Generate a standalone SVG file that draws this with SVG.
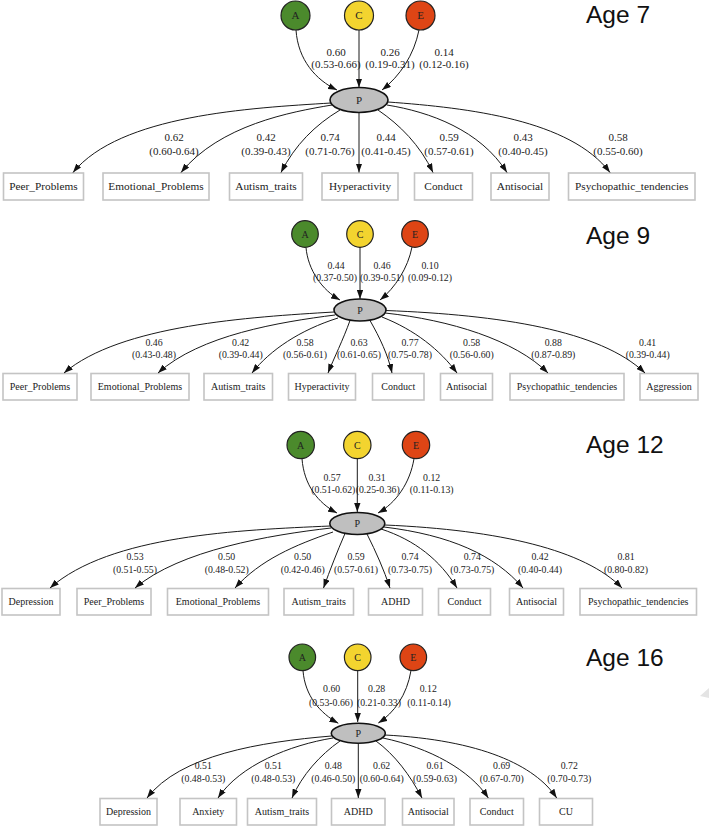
<svg xmlns="http://www.w3.org/2000/svg" width="709" height="826" viewBox="0 0 709 826">
<defs>
<marker id="arr" viewBox="0 0 10 7" markerWidth="9" markerHeight="6.5" refX="10" refY="3.5" orient="auto" markerUnits="userSpaceOnUse">
<path d="M0,0 L10,3.5 L0,7 Z" fill="#111"/>
</marker>
<style>
.e{fill:none;stroke:#1a1a1a;stroke-width:1;marker-end:url(#arr)}
.b{fill:#fff;stroke:#c4c4c4;stroke-width:1.6}
.t{font-family:"Liberation Serif","Times New Roman",serif;fill:#222;text-anchor:middle}
.s1{font-size:11px}
.s2{font-size:9.8px}
.bt1{font-size:11.3px}
.bt2{font-size:10px}
.age{font-family:"Liberation Sans",Arial,sans-serif;font-size:24.5px;fill:#111}
.a{fill:#4b8a2c;stroke:#222;stroke-width:1.2}
.c{fill:#f3d42f;stroke:#222;stroke-width:1.2}
.x{fill:#de4515;stroke:#222;stroke-width:1.2}
.p{fill:#bfbfbf;stroke:#111;stroke-width:1.6}
</style>
</defs>
<rect width="709" height="826" fill="#fff"/>

<!-- ================= Age 7 ================= -->
<text class="age" x="586" y="23">Age 7</text>
<g id="a7-A"><circle class="a" cx="295.5" cy="15.5" r="14.5"/><text class="t s1" x="295.5" y="19.3">A</text></g>
<g id="a7-C"><circle class="c" cx="359" cy="15.5" r="14.5"/><text class="t s1" x="359" y="19.3">C</text></g>
<g id="a7-E"><circle class="x" cx="420.5" cy="15.5" r="14.5"/><text class="t s1" x="420.5" y="19.3">E</text></g>
<g id="a7-P"><ellipse class="p" cx="359" cy="100" rx="29" ry="12.5"/><text class="t s1" x="359" y="103.8">P</text></g>
<g id="a7-n1"><rect class="b" x="3.5" y="173" width="80" height="27"/><text class="t bt1" x="43.5" y="190.3">Peer_Problems</text></g>
<g id="a7-n2"><rect class="b" x="103" y="173" width="106" height="27"/><text class="t bt1" x="156" y="190.3">Emotional_Problems</text></g>
<g id="a7-n3"><rect class="b" x="229.5" y="173" width="73" height="27"/><text class="t bt1" x="266" y="190.3">Autism_traits</text></g>
<g id="a7-n4"><rect class="b" x="322" y="173" width="76" height="27"/><text class="t bt1" x="360" y="190.3">Hyperactivity</text></g>
<g id="a7-n5"><rect class="b" x="414.5" y="173" width="58" height="27"/><text class="t bt1" x="443.5" y="190.3">Conduct</text></g>
<g id="a7-n6"><rect class="b" x="491" y="173" width="58" height="27"/><text class="t bt1" x="520" y="190.3">Antisocial</text></g>
<g id="a7-n7"><rect class="b" x="568.5" y="173" width="126.5" height="27"/><text class="t bt1" x="631.75" y="190.3">Psychopathic_tendencies</text></g>
<g id="a7-edges">
<path class="e" d="M296,30 C298,60 316,80 337,90"/>
<path class="e" d="M359,30 L359,87.5"/>
<path class="e" d="M419,30 C414,55 400,76 382,90"/>
<path class="e" d="M331,103 C250,108 120,115 73,172.5"/>
<path class="e" d="M332,105 C290,112 220,125 181,172.5"/>
<path class="e" d="M340,110 C315,125 295,145 281,172.5"/>
<path class="e" d="M359,112.5 L359,172.5"/>
<path class="e" d="M378,110 C400,125 420,145 433,172.5"/>
<path class="e" d="M387,105 C430,112 480,130 507,172.5"/>
<path class="e" d="M388,102 C470,108 570,120 610,172.5"/>
<g class="t s1">
<text x="336" y="55.7">0.60</text><text x="336" y="68.3">(0.53-0.66)</text>
<text x="390" y="55.7">0.26</text><text x="390" y="68.3">(0.19-0.31)</text>
<text x="444" y="55.7">0.14</text><text x="444" y="68.3">(0.12-0.16)</text>
<text x="174" y="140.5">0.62</text><text x="174" y="155">(0.60-0.64)</text>
<text x="266" y="140.5">0.42</text><text x="266" y="155">(0.39-0.43)</text>
<text x="330" y="140.5">0.74</text><text x="330" y="155">(0.71-0.76)</text>
<text x="386" y="140.5">0.44</text><text x="386" y="155">(0.41-0.45)</text>
<text x="449" y="140.5">0.59</text><text x="449" y="155">(0.57-0.61)</text>
<text x="523" y="140.5">0.43</text><text x="523" y="155">(0.40-0.45)</text>
<text x="618" y="140.5">0.58</text><text x="618" y="155">(0.55-0.60)</text>
</g>
</g>

<!-- ================= Age 9 ================= -->
<text class="age" x="586" y="244.3">Age 9</text>
<g id="a9-A"><circle class="a" cx="305" cy="234" r="13.3"/><text class="t bt2" x="305" y="237.5">A</text></g>
<g id="a9-C"><circle class="c" cx="360" cy="234" r="13.3"/><text class="t bt2" x="360" y="237.5">C</text></g>
<g id="a9-E"><circle class="x" cx="415" cy="234" r="13.3"/><text class="t bt2" x="415" y="237.5">E</text></g>
<g id="a9-P"><ellipse class="p" cx="360" cy="310" rx="26" ry="11"/><text class="t bt2" x="360" y="313.5">P</text></g>
<g id="a9-n1"><rect class="b" x="3" y="373.5" width="74" height="26.5"/><text class="t bt2" x="40" y="390.2">Peer_Problems</text></g>
<g id="a9-n2"><rect class="b" x="91" y="373.5" width="98" height="26.5"/><text class="t bt2" x="140" y="390.2">Emotional_Problems</text></g>
<g id="a9-n3"><rect class="b" x="204" y="373.5" width="68.5" height="26.5"/><text class="t bt2" x="238.25" y="390.2">Autism_traits</text></g>
<g id="a9-n4"><rect class="b" x="288.5" y="373.5" width="67" height="26.5"/><text class="t bt2" x="322" y="390.2">Hyperactivity</text></g>
<g id="a9-n5"><rect class="b" x="372.5" y="373.5" width="51.5" height="26.5"/><text class="t bt2" x="398.25" y="390.2">Conduct</text></g>
<g id="a9-n6"><rect class="b" x="440.5" y="373.5" width="52" height="26.5"/><text class="t bt2" x="466.5" y="390.2">Antisocial</text></g>
<g id="a9-n7"><rect class="b" x="510" y="373.5" width="114" height="26.5"/><text class="t bt2" x="567" y="390.2">Psychopathic_tendencies</text></g>
<g id="a9-n8"><rect class="b" x="640" y="373.5" width="58" height="26.5"/><text class="t bt2" x="669" y="390.2">Aggression</text></g>
<g id="a9-edges">
<path class="e" d="M306,247.5 C308,270 322,290 340,300"/>
<path class="e" d="M360,247.5 L360,299"/>
<path class="e" d="M412,247 C408,268 395,288 380,300"/>
<path class="e" d="M334,312 C250,317 120,325 64,373"/>
<path class="e" d="M335,315 C280,322 200,335 158,373"/>
<path class="e" d="M338,318 C300,330 270,350 252,373"/>
<path class="e" d="M350,320.5 C343,340 334,358 328,373"/>
<path class="e" d="M370,320.5 C380,338 388,355 392,373"/>
<path class="e" d="M382,317 C415,330 440,350 457,373"/>
<path class="e" d="M385,313 C450,320 515,340 548,373"/>
<path class="e" d="M386,310.5 C500,315 600,330 645,373"/>
<g class="t s2">
<text x="336" y="269.3">0.44</text><text x="335" y="281.3">(0.37-0.50)</text>
<text x="382" y="269.3">0.46</text><text x="382" y="281.3">(0.39-0.51)</text>
<text x="430" y="269.3">0.10</text><text x="430" y="281.3">(0.09-0.12)</text>
<text x="154" y="346">0.46</text><text x="154" y="357.6">(0.43-0.48)</text>
<text x="240.7" y="346">0.42</text><text x="240.7" y="357.6">(0.39-0.44)</text>
<text x="305" y="346">0.58</text><text x="305" y="357.6">(0.56-0.61)</text>
<text x="359" y="346">0.63</text><text x="359" y="357.6">(0.61-0.65)</text>
<text x="410" y="346">0.77</text><text x="410" y="357.6">(0.75-0.78)</text>
<text x="471.7" y="346">0.58</text><text x="471.7" y="357.6">(0.56-0.60)</text>
<text x="553.3" y="346">0.88</text><text x="553.3" y="357.6">(0.87-0.89)</text>
<text x="647.7" y="346">0.41</text><text x="647.7" y="357.6">(0.39-0.44)</text>
</g>
</g>

<!-- ================= Age 12 ================= -->
<text class="age" x="586" y="453.3">Age 12</text>
<g id="a12-A"><circle class="a" cx="300.7" cy="445" r="13.7"/><text class="t bt2" x="300.7" y="448.5">A</text></g>
<g id="a12-C"><circle class="c" cx="357.3" cy="445" r="13.7"/><text class="t bt2" x="357.3" y="448.5">C</text></g>
<g id="a12-E"><circle class="x" cx="416" cy="445" r="13.7"/><text class="t bt2" x="416" y="448.5">E</text></g>
<g id="a12-P"><ellipse class="p" cx="357.3" cy="523.5" rx="27.5" ry="11"/><text class="t bt2" x="357.3" y="527">P</text></g>
<g id="a12-n1"><rect class="b" x="2" y="588.5" width="58" height="26.5"/><text class="t bt2" x="31" y="605.2">Depression</text></g>
<g id="a12-n2"><rect class="b" x="77" y="588.5" width="74" height="26.5"/><text class="t bt2" x="114" y="605.2">Peer_Problems</text></g>
<g id="a12-n3"><rect class="b" x="167.5" y="588.5" width="101" height="26.5"/><text class="t bt2" x="218" y="605.2">Emotional_Problems</text></g>
<g id="a12-n4"><rect class="b" x="284" y="588.5" width="69.5" height="26.5"/><text class="t bt2" x="318.75" y="605.2">Autism_traits</text></g>
<g id="a12-n5"><rect class="b" x="368.5" y="588.5" width="54" height="26.5"/><text class="t bt2" x="395.5" y="605.2">ADHD</text></g>
<g id="a12-n6"><rect class="b" x="438.5" y="588.5" width="52" height="26.5"/><text class="t bt2" x="464.5" y="605.2">Conduct</text></g>
<g id="a12-n7"><rect class="b" x="509.5" y="588.5" width="54" height="26.5"/><text class="t bt2" x="536.5" y="605.2">Antisocial</text></g>
<g id="a12-n8"><rect class="b" x="580" y="588.5" width="116.5" height="26.5"/><text class="t bt2" x="638.25" y="605.2">Psychopathic_tendencies</text></g>
<g id="a12-edges">
<path class="e" d="M302,458.7 C304,485 318,503 337,513"/>
<path class="e" d="M357.3,458.7 L357.3,512"/>
<path class="e" d="M414,458.7 C410,483 396,503 378,513"/>
<path class="e" d="M330,526 C240,530 110,535 50,588"/>
<path class="e" d="M331,528 C270,535 180,550 135,588"/>
<path class="e" d="M333,532 C295,545 260,560 235,588"/>
<path class="e" d="M345,533.5 C337,552 330,570 323.5,588"/>
<path class="e" d="M367,534 C376,552 384,570 390,588"/>
<path class="e" d="M381,529 C415,540 440,560 457,588"/>
<path class="e" d="M384,527 C450,535 495,555 523,588"/>
<path class="e" d="M385,525 C500,530 585,550 622,588"/>
<g class="t s2">
<text x="332" y="481">0.57</text><text x="333.3" y="493.3">(0.51-0.62)</text>
<text x="377" y="481">0.31</text><text x="377.7" y="493.3">(0.25-0.36)</text>
<text x="431.7" y="481">0.12</text><text x="431.7" y="493.3">(0.11-0.13)</text>
<text x="135" y="560">0.53</text><text x="135" y="572.6">(0.51-0.55)</text>
<text x="226.7" y="560">0.50</text><text x="226.7" y="572.6">(0.48-0.52)</text>
<text x="302.7" y="560">0.50</text><text x="302.7" y="572.6">(0.42-0.46)</text>
<text x="356" y="560">0.59</text><text x="356" y="572.6">(0.57-0.61)</text>
<text x="410" y="560">0.74</text><text x="410" y="572.6">(0.73-0.75)</text>
<text x="472.3" y="560">0.74</text><text x="472.3" y="572.6">(0.73-0.75)</text>
<text x="540" y="560">0.42</text><text x="540" y="572.6">(0.40-0.44)</text>
<text x="626" y="560">0.81</text><text x="626" y="572.6">(0.80-0.82)</text>
</g>
</g>

<!-- ================= Age 16 ================= -->
<text class="age" x="586" y="665.7">Age 16</text>
<g id="a16-A"><circle class="a" cx="302.3" cy="657.3" r="13.3"/><text class="t bt2" x="302.3" y="660.8">A</text></g>
<g id="a16-C"><circle class="c" cx="357.7" cy="657.3" r="13.3"/><text class="t bt2" x="357.7" y="660.8">C</text></g>
<g id="a16-E"><circle class="x" cx="413.3" cy="657.3" r="13.3"/><text class="t bt2" x="413.3" y="660.8">E</text></g>
<g id="a16-P"><ellipse class="p" cx="358.3" cy="733.3" rx="27" ry="10"/><text class="t bt2" x="358.3" y="736.8">P</text></g>
<g id="a16-n1"><rect class="b" x="100" y="798.5" width="57" height="26.5"/><text class="t bt2" x="128.5" y="815.2">Depression</text></g>
<g id="a16-n2"><rect class="b" x="180" y="798.5" width="56.5" height="26.5"/><text class="t bt2" x="208.25" y="815.2">Anxiety</text></g>
<g id="a16-n3"><rect class="b" x="247.5" y="798.5" width="69" height="26.5"/><text class="t bt2" x="282" y="815.2">Autism_traits</text></g>
<g id="a16-n4"><rect class="b" x="331.5" y="798.5" width="53.5" height="26.5"/><text class="t bt2" x="358.25" y="815.2">ADHD</text></g>
<g id="a16-n5"><rect class="b" x="402.5" y="798.5" width="51.5" height="26.5"/><text class="t bt2" x="428.25" y="815.2">Antisocial</text></g>
<g id="a16-n6"><rect class="b" x="470" y="798.5" width="53.5" height="26.5"/><text class="t bt2" x="496.75" y="815.2">Conduct</text></g>
<g id="a16-n7"><rect class="b" x="539.5" y="798.5" width="53" height="26.5"/><text class="t bt2" x="566" y="815.2">CU</text></g>
<g id="a16-edges">
<path class="e" d="M303,670.6 C305,696 320,713 338.3,723.3"/>
<path class="e" d="M357.7,670.6 L357.7,722"/>
<path class="e" d="M411,670.5 C407,695 394,713 378.3,723"/>
<path class="e" d="M331.5,736 C260,742 180,755 147,798"/>
<path class="e" d="M333,738 C290,745 240,765 218,798"/>
<path class="e" d="M340,741 C320,755 302,775 292,798"/>
<path class="e" d="M358.3,743.3 L358.3,798"/>
<path class="e" d="M376,741 C395,755 410,775 422,798"/>
<path class="e" d="M383,738 C430,748 470,770 488.3,798"/>
<path class="e" d="M385,735 C480,740 535,765 556.7,798"/>
<g class="t s2">
<text x="331.7" y="692.3">0.60</text><text x="331" y="705.6">(0.53-0.66)</text>
<text x="376.7" y="692.3">0.28</text><text x="379" y="705.6">(0.21-0.33)</text>
<text x="428.3" y="692.3">0.12</text><text x="429" y="705.6">(0.11-0.14)</text>
<text x="203.3" y="769.3">0.51</text><text x="203.3" y="782.3">(0.48-0.53)</text>
<text x="273.3" y="769.3">0.51</text><text x="273.3" y="782.3">(0.48-0.53)</text>
<text x="333.3" y="769.3">0.48</text><text x="333.3" y="782.3">(0.46-0.50)</text>
<text x="381.7" y="769.3">0.62</text><text x="381.7" y="782.3">(0.60-0.64)</text>
<text x="435" y="769.3">0.61</text><text x="435" y="782.3">(0.59-0.63)</text>
<text x="501.7" y="769.3">0.69</text><text x="501.7" y="782.3">(0.67-0.70)</text>
<text x="569.3" y="769.3">0.72</text><text x="569.3" y="782.3">(0.70-0.73)</text>
</g>
</g>
<polygon points="700,696 709,688 709,698" fill="#e4e4e4"/>
</svg>
